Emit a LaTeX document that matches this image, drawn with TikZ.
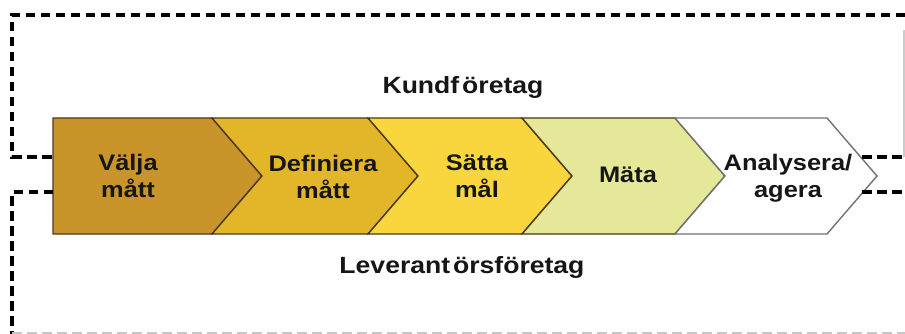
\documentclass[tikz,border=0pt]{standalone}
\usepackage{fontspec}
\setmainfont{Liberation Sans}
\newfontfamily\widefont[FakeStretch=1.13]{Liberation Sans}
\definecolor{cA}{RGB}{201,148,42}
\definecolor{cB}{RGB}{226,182,40}
\definecolor{cC}{RGB}{250,214,62}
\definecolor{cD}{RGB}{228,232,152}
\definecolor{cE}{RGB}{255,255,255}
\definecolor{edgeA}{RGB}{75,58,20}
\definecolor{txt}{RGB}{22,22,22}
\tikzset{
  border/.style={draw=black, line width=3.4pt, dash pattern=on 9.5pt off 5.5pt},
  faint/.style={draw=black!22, line width=2.4pt, dash pattern=on 9.5pt off 5.5pt},
  chev/.style={draw=edgeA, line width=1.4pt, line join=miter},
  lbl/.style={font=\widefont\bfseries\fontsize{22.5}{27}\selectfont, text=txt, align=center, inner sep=0pt},
  head/.style={font=\widefont\bfseries\fontsize{23.5}{28}\selectfont, text=txt, inner sep=0pt, anchor=base}
}
\begin{document}
\begin{tikzpicture}[x=1pt,y=-1pt]
\useasboundingbox (0,0) rectangle (905,334);
% chevrons
\path[chev, fill=cA] (53,118) -- (212,118) -- (262,176) -- (212,234) -- (53,234) -- cycle;
\path[chev, fill=cB] (212,118) -- (368,118) -- (418,176) -- (368,234) -- (212,234) -- (262,176) -- cycle;
\path[chev, fill=cC] (368,118) -- (522,118) -- (572,176) -- (522,234) -- (368,234) -- (418,176) -- cycle;
\path[chev, fill=cD] (522,118) -- (675,118) -- (725,176) -- (675,234) -- (522,234) -- (572,176) -- cycle;
\path[chev, draw=black!55, fill=cE] (675,118) -- (827,118) -- (877,176) -- (827,234) -- (675,234) -- (725,176) -- cycle;
% named coordinates on chevron edges
\coordinate (inL1) at (53,157);
\coordinate (inL2) at (53,192);
\coordinate (outR1) at (862,157);
\coordinate (outR2) at (862,192);
\coordinate (tl) at (12,15);
\coordinate (tr) at (905,15);
\coordinate (bl) at (12,333);
\coordinate (br) at (905,333);
\coordinate (er1) at (905,157);
\coordinate (er2) at (905,192);
% labels
\node[lbl] (n1) at (128,176) {Välja\\mått};
\node[lbl] (n2) at (323,177) {Definiera\\mått};
\node[lbl] (n3) at (477,176) {Sätta\\mål};
\node[lbl] (n4) at (628,175) {Mäta};
\node[lbl] (n5) at (788,178) {Analysera/\\agera};
\node[head] (kund) at (463,94) {Kundf\kern3pt öretag};
\node[head] (lev) at (462,273) {Leverant\kern3pt örsföretag};
% dashed boundaries
\draw[border] (tr) -- (tl) -- (12,157) -- (inL1);
\draw[border] (inL2) -- (12,192) -- (12,334);
\draw[faint] (bl) -- (br);
\draw[draw=black!20, line width=1.4pt] (904,30) -- (904,157);
\draw[border] (outR1) -- (er1);
\draw[border] (outR2) -- (er2);
\end{tikzpicture}
\end{document}
